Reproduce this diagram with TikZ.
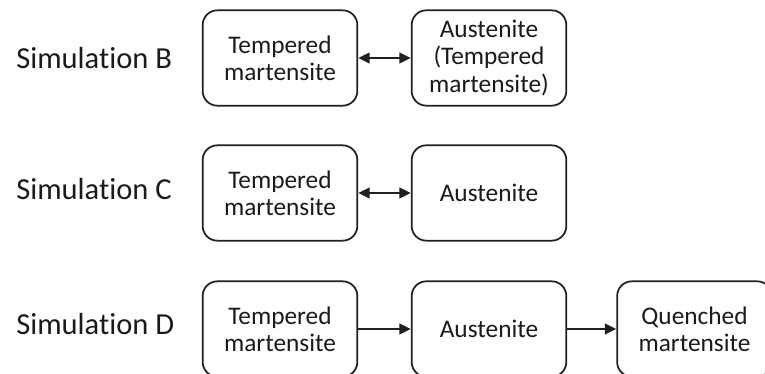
\documentclass[tikz,border=0pt]{standalone}
\usepackage{fontspec}
\setmainfont{Carlito}[RawFeature={-liga;-clig;-dlig}]
\usetikzlibrary{arrows.meta, positioning}
\definecolor{cink}{HTML}{1A1A1A}
\definecolor{cline}{HTML}{202020}

\begin{document}
\begin{tikzpicture}[
  x=0.75pt, y=-0.75pt,
  phase/.style={
    rectangle, rounded corners=11pt, draw=cline, line width=1.3pt,
    minimum width=116pt, minimum height=71.5pt, inner sep=0pt,
    align=center, text=cink, font=\fontsize{19}{20.5}\selectfont
  },
  simlabel/.style={anchor=west, inner sep=0pt, text=cink,
    font=\fontsize{22.9}{26}\selectfont},
  both/.style={{Triangle[length=8.5pt, width=8pt]}-{Triangle[length=8.5pt, width=8pt]},
    draw=cline, line width=1.2pt},
  fwd/.style={-{Triangle[length=8.5pt, width=8pt]}, draw=cline, line width=1.2pt}
]
\useasboundingbox (0,0) rectangle (765,374);

% ============================================================
% Simulation B
\node[simlabel] (simB) at (16, 58) {Simulation B};
\node[phase] (b1) at (280, 58) {Tempered\\martensite};
\node[phase] (b2) at (489, 58) {Austenite\\(Tempered\\martensite)};
\draw[both] (b1) -- (b2);

% ============================================================
% Simulation C
\node[simlabel] (simC) at (16, 189) {Simulation C};
\node[phase] (c1) at (280, 193) {Tempered\\martensite};
\node[phase] (c2) at (489, 193) {Austenite};
\draw[both] (c1) -- (c2);

% ============================================================
% Simulation D (bottom row runs off the page edge)
\node[simlabel] (simD) at (16, 324) {Simulation D};
\node[phase] (d1) at (280, 329) {Tempered\\martensite};
\node[phase] (d2) at (489, 329) {Austenite};
\node[phase] (d3) at (694.5, 329) {Quenched\\martensite};
\draw[fwd] (d1) -- (d2);
\draw[fwd] (d2) -- (d3);

\end{tikzpicture}
\end{document}
